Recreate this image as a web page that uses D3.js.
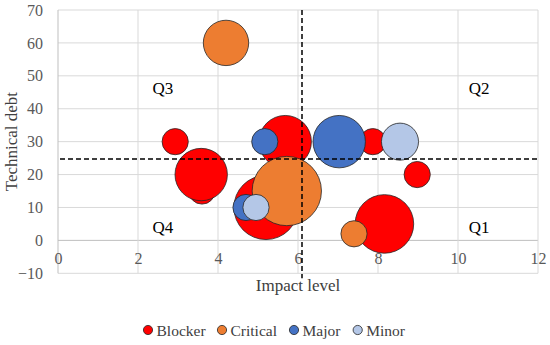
<!DOCTYPE html>
<html>
<head>
<meta charset="utf-8">
<script src="https://cdn.jsdelivr.net/npm/d3@7"></script>
<style>
  html, body { margin: 0; padding: 0; background: #fff; }
  svg { display: block; }
  svg text { font-family: "Liberation Serif", "Times New Roman", serif !important; }
</style>
</head>
<body>
<svg id="chart" width="550" height="345"></svg>
<script>
// ---- data ----
const categories = ["Blocker", "Critical", "Major", "Minor"];

const blockerX    = [2.93, 3.6, 3.58, 5.68, 5.2, 7.87, 8.98, 8.16];
const blockerY    = [30, 15, 20, 30, 10, 30, 20, 5];
const blockerSize = [1, 1, 4, 4, 6, 1, 1, 5];

const criticalX    = [4.2, 5.72, 7.4];
const criticalY    = [60, 15, 2];
const criticalSize = [3, 7, 1];

const majorX    = [5.17, 4.7, 7.03];
const majorY    = [30, 10, 30];
const majorSize = [1, 1, 4];

const minorX    = [4.95, 8.55];
const minorY    = [10, 30];
const minorSize = [1, 2];

const xTicks = [0, 2, 4, 6, 8, 10, 12];
const yTicks = [-10, 0, 10, 20, 30, 40, 50, 60, 70];

const xThreshold = 6.1;
const yThreshold = 24.7;

const quadrantLabels = ["Q1", "Q2", "Q3", "Q4"];
const quadrantX = [10.27, 10.27, 2.36, 2.36];
const quadrantY = [2.2, 44.5, 44.5, 2.2];

// ---- styles ----
const palette = ["#FF0000", "#ED7D31", "#4472C4", "#B4C7E7"];

const seriesList = [
  {name: categories[0], xs: blockerX, ys: blockerY, ss: blockerSize},
  {name: categories[1], xs: criticalX, ys: criticalY, ss: criticalSize},
  {name: categories[2], xs: majorX, ys: majorY, ss: majorSize},
  {name: categories[3], xs: minorX, ys: minorY, ss: minorSize}
];

const svg = d3.select("#chart");
const x = d3.scaleLinear().domain([0, 12]).range([58, 538]);
const y = d3.scaleLinear().domain([-10, 70]).range([273.3, 10]);
const r = d3.scaleSqrt().domain([0, 7]).range([0, 13.1 * Math.sqrt(7)]);

// grid lines
const grid = svg.append("g");
grid.selectAll("line.h").data(yTicks).enter().append("line")
  .attr("x1", x(0)).attr("x2", x(12))
  .attr("y1", d => y(d)).attr("y2", d => y(d))
  .attr("stroke", d => d === 0 ? "#bfbfbf" : "#d9d9d9").attr("stroke-width", 1);
grid.selectAll("line.v").data(xTicks).enter().append("line")
  .attr("y1", y(-10)).attr("y2", y(70))
  .attr("x1", d => x(d)).attr("x2", d => x(d))
  .attr("stroke", d => d === 0 ? "#bfbfbf" : "#d9d9d9").attr("stroke-width", 1);

// y tick labels via axis
const yAxis = svg.append("g").attr("transform", `translate(${x(0)},0)`)
  .call(d3.axisLeft(y).tickValues(yTicks).tickSize(0).tickPadding(15)
        .tickFormat(d => d < 0 ? "\u2212" + Math.abs(d) : d))
  .attr("font-family", "Liberation Serif").attr("font-size", 16);
yAxis.select(".domain").remove();
yAxis.selectAll("text").attr("fill", "#595959");

// x tick labels, placed below the y=0 line
const xAxis = svg.append("g").attr("transform", `translate(0,${y(0)})`)
  .call(d3.axisBottom(x).tickValues(xTicks).tickSize(0).tickPadding(12))
  .attr("font-family", "Liberation Serif").attr("font-size", 16);
xAxis.select(".domain").remove();
xAxis.selectAll("text").attr("fill", "#595959");

// bubbles
const bubbles = svg.append("g");
seriesList.forEach((s, si) => {
  const pts = s.xs.map((xv, i) => ({x: xv, y: s.ys[i], s: s.ss[i]}));
  bubbles.append("g").selectAll("circle").data(pts).enter().append("circle")
    .attr("cx", d => x(d.x)).attr("cy", d => y(d.y)).attr("r", d => r(d.s))
    .attr("fill", palette[si]).attr("stroke", "#262626").attr("stroke-width", 0.8);
});

// threshold dashed lines
svg.append("line")
  .attr("x1", x(0) + 2).attr("x2", x(12))
  .attr("y1", y(yThreshold)).attr("y2", y(yThreshold))
  .attr("stroke", "#000").attr("stroke-width", 1.5).attr("stroke-dasharray", "5,3");
svg.append("line")
  .attr("x1", x(xThreshold)).attr("x2", x(xThreshold))
  .attr("y1", y(70)).attr("y2", y(-11.5))
  .attr("stroke", "#000").attr("stroke-width", 1.5).attr("stroke-dasharray", "5,3");

// quadrant labels
svg.append("g").selectAll("text").data(quadrantLabels).enter().append("text")
  .attr("x", (d, i) => x(quadrantX[i])).attr("y", (d, i) => y(quadrantY[i]))
  .attr("fill", "#000").attr("font-size", 17).text(d => d);

// axis titles
svg.append("text").attr("x", (x(0) + x(12)) / 2).attr("y", 291)
  .attr("text-anchor", "middle").attr("fill", "#404040").attr("font-size", 17)
  .text("Impact level");
svg.append("text")
  .attr("transform", `translate(17,${(y(-10) + y(70)) / 2}) rotate(-90)`)
  .attr("text-anchor", "middle").attr("fill", "#404040").attr("font-size", 17)
  .text("Technical debt");

// legend
const legendX = [148, 222, 294, 357.7];
const legend = svg.append("g");
categories.forEach((c, i) => {
  legend.append("circle").attr("cx", legendX[i]).attr("cy", 330).attr("r", 4.6)
    .attr("fill", palette[i]).attr("stroke", "#262626").attr("stroke-width", 0.8);
  legend.append("text").attr("x", legendX[i] + 8.5).attr("y", 335.5)
    .attr("fill", "#404040").attr("font-size", 15.5).text(c);
});
</script>
</body>
</html>
